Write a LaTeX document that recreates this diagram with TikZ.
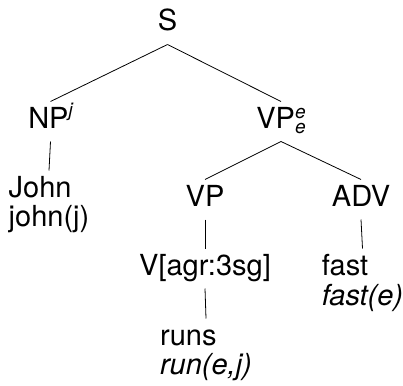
\documentclass[tikz,border=0pt]{standalone}
\usepackage{fontspec}
\setmainfont{TeX Gyre Heros}
% small italic index letters for the feature annotations
\newcommand\tagidx[1]{\hbox{\fontsize{19}{19}\selectfont\itshape #1}}
% a leaf: the word on top, its semantics below
\newcommand\leafbox[2]{\begin{tabular}[t]{@{}l@{}}#1\\#2\end{tabular}}
% a tree branch from the bottom of one label to the top of another
\newcommand\branch[2]{\draw[branchline] ([yshift=-13.5pt]#1.base) -- ([yshift=26.5pt]#2.base);}
\tikzset{
  lab/.style={anchor=base, inner sep=0pt, font=\fontsize{29}{29.5}\selectfont},
  branchline/.style={line width=0.8pt, black}
}
\begin{document}
\begin{tikzpicture}[x=1pt, y=-1pt]
  \useasboundingbox (0,0) rectangle (403,385);

  \node[lab] (S)   at (167.5,31) {S};
  \node[lab] (NP)  at (50.5,128) {NP\raisebox{12pt}{\tagidx{j}}};
  \node[lab] (VPe) at (281,128)  {VP\rlap{\raisebox{10pt}{\tagidx{e}}}\raisebox{-5pt}{\tagidx{e}}};
  \node[lab] (John) at (49,197)  {\leafbox{John}{john(j)}};
  \node[lab] (VP)  at (205,206)  {VP};
  \node[lab] (ADV) at (361,206)  {ADV};
  \node[lab] (V)   at (205,275)  {V[agr:3sg]};
  \node[lab] (fast) at (362.5,275) {\leafbox{fast}{\itshape fast(e)}};
  \node[lab] (runs) at (206,345) {\leafbox{runs}{\itshape run(e,j)}};

  \branch{S}{NP}
  \branch{S}{VPe}
  \branch{NP}{John}
  \branch{VPe}{VP}
  \branch{VPe}{ADV}
  \branch{VP}{V}
  \branch{ADV}{fast}
  \branch{V}{runs}
\end{tikzpicture}
\end{document}
